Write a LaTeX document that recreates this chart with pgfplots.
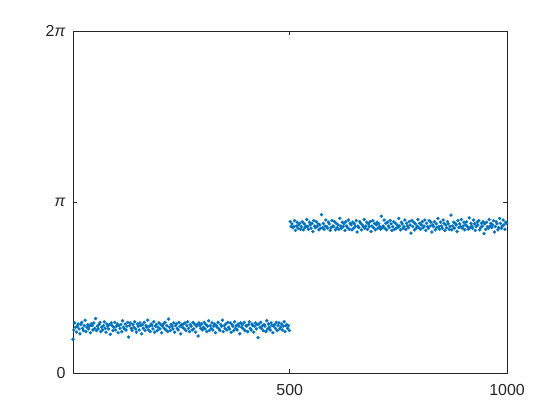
\documentclass[border=0pt]{standalone}
\usepackage{pgfplots}
\pgfplotsset{compat=1.18}
\usepackage{fontspec}
\setmainfont{Liberation Sans}
\definecolor{mblue}{HTML}{0072BD}
\definecolor{axgray}{HTML}{262626}
\begin{document}
\begin{tikzpicture}
\useasboundingbox (-73bp,-47bp) rectangle (487bp,373bp);
\begin{axis}[
  at={(0,0)}, anchor=south west,
  width=434bp, height=342bp, scale only axis,
  xmin=1, xmax=1000, ymin=0, ymax=6.2832,
  xtick={500,1000}, xticklabels={500,1000},
  ytick={0,3.14159,6.28318}, yticklabels={0,\textit{π},2\textit{π}},
  tick align=inside, major tick length=4.3bp,
  axis line style={axgray, line width=0.6bp},
  every tick/.style={axgray, line width=0.6bp},
  tick label style={font=\fontsize{16}{19}\selectfont, text=axgray},
  xticklabel style={yshift=-8bp},
  yticklabel style={xshift=-4bp},
]
% first half
\addplot[only marks, mark=*, mark size=1.5bp, mblue, mark options={draw=none, fill=mblue}] coordinates {
(1,0.62)(3,0.79)(5,0.92)(7,0.84)(9,0.75)(11,0.86)(13,0.90)(15,0.81)(17,0.72)(19,0.89)(21,0.93)(23,0.82)(25,0.78)(27,0.87)(29,0.97)(31,0.76)(33,0.84)(35,0.89)(37,0.81)(39,0.86)
(41,0.74)(43,0.90)(45,0.87)(47,0.79)(49,0.92)(51,0.82)(53,1.00)(55,0.78)(57,0.86)(59,0.81)(61,0.89)(63,0.93)(65,0.76)(67,0.84)(69,0.79)(71,0.87)(73,0.94)(75,0.82)(77,0.75)(79,0.90)
(81,0.86)(83,0.81)(85,0.89)(87,0.71)(89,0.92)(91,0.87)(93,0.78)(95,0.84)(97,0.93)(99,0.79)(101,0.86)(103,0.90)(105,0.74)(107,0.87)(109,0.82)(111,0.89)(113,0.76)(115,0.96)(117,0.84)(119,0.81)
(121,0.90)(123,0.79)(125,0.86)(127,0.93)(129,0.66)(131,0.87)(133,0.92)(135,0.82)(137,0.78)(139,0.89)(141,0.84)(143,0.94)(145,0.81)(147,0.75)(149,0.90)(151,0.86)(153,0.79)(155,0.92)(157,0.87)(159,0.72)
(161,0.89)(163,0.82)(165,0.93)(167,0.78)(169,0.87)(171,0.84)(173,0.97)(175,0.79)(177,0.86)(179,0.76)(181,0.90)(183,0.87)(185,0.81)(187,0.94)(189,0.75)(191,0.86)(193,0.89)(195,0.78)(197,0.84)(199,0.92)
(201,0.81)(203,0.89)(205,0.74)(207,0.86)(209,0.90)(211,0.82)(213,0.93)(215,0.79)(217,0.87)(219,0.76)(221,0.99)(223,0.84)(225,0.78)(227,0.89)(229,0.86)(231,0.81)(233,0.92)(235,0.75)(237,0.87)(239,0.90)
(241,0.82)(243,0.79)(245,0.93)(247,0.86)(249,0.72)(251,0.89)(253,0.84)(255,0.90)(257,0.81)(259,0.92)(261,0.78)(263,0.87)(265,0.94)(267,0.82)(269,0.76)(271,0.89)(273,0.86)(275,0.79)(277,0.93)(279,0.81)
(281,0.90)(283,0.75)(285,0.86)(287,0.89)(289,0.68)(291,0.92)(293,0.87)(295,0.82)(297,0.90)(299,0.79)(301,0.84)(303,0.93)(305,0.81)(307,0.89)(309,0.76)(311,0.86)(313,0.96)(315,0.78)(317,0.87)(319,0.82)
(321,0.92)(323,0.79)(325,0.86)(327,0.90)(329,0.74)(331,0.87)(333,0.84)(335,0.93)(337,0.81)(339,0.78)(341,0.89)(343,0.86)(345,0.97)(347,0.76)(349,0.87)(351,0.82)(353,0.90)(355,0.79)(357,0.93)(359,0.84)
(361,0.81)(363,0.92)(365,0.75)(367,0.89)(369,0.86)(371,0.78)(373,0.94)(375,0.82)(377,0.87)(379,0.79)(381,0.90)(383,0.86)(385,0.72)(387,0.92)(389,0.84)(391,0.89)(393,0.81)(395,0.93)(397,0.78)(399,0.87)
(401,0.86)(403,0.76)(405,0.89)(407,0.94)(409,0.82)(411,0.79)(413,0.90)(415,0.87)(417,0.75)(419,0.86)(421,0.92)(423,0.81)(425,0.89)(427,0.65)(429,0.90)(431,0.84)(433,0.93)(435,0.82)(437,0.87)(439,0.78)
(441,0.89)(443,0.86)(445,0.76)(447,0.96)(449,0.81)(451,0.90)(453,0.84)(455,0.79)(457,0.92)(459,0.87)(461,0.74)(463,0.86)(465,0.89)(467,0.82)(469,0.93)(471,0.78)(473,0.87)(475,0.92)(477,0.81)(479,0.84)
(481,0.90)(483,0.79)(485,0.86)(487,0.94)(489,0.76)(491,0.87)(493,0.89)(495,0.82)(497,0.87)(499,0.78)
};
% second half
\addplot[only marks, mark=*, mark size=1.5bp, mblue, mark options={draw=none, fill=mblue}] coordinates {
(501,2.78)(503,2.69)(505,2.74)(507,2.67)(509,2.69)(511,2.80)(513,2.62)(515,2.70)(517,2.77)(519,2.66)
(521,2.72)(523,2.75)(525,2.64)(527,2.69)(529,2.78)(531,2.63)(533,2.74)(535,2.67)(537,2.70)(539,2.82)(541,2.69)(543,2.64)(545,2.77)(547,2.72)(549,2.66)(551,2.75)(553,2.60)(555,2.80)(557,2.70)(559,2.67)
(561,2.78)(563,2.69)(565,2.74)(567,2.63)(569,2.72)(571,2.66)(573,2.91)(575,2.67)(577,2.75)(579,2.64)(581,2.70)(583,2.81)(585,2.69)(587,2.66)(589,2.77)(591,2.74)(593,2.62)(595,2.67)(597,2.80)(599,2.70)
(601,2.69)(603,2.78)(605,2.63)(607,2.75)(609,2.67)(611,2.72)(613,2.64)(615,2.84)(617,2.70)(619,2.66)(621,2.77)(623,2.69)(625,2.74)(627,2.62)(629,2.78)(631,2.70)(633,2.67)(635,2.81)(637,2.64)(639,2.75)
(641,2.72)(643,2.63)(645,2.77)(647,2.66)(649,2.74)(651,2.69)(653,2.80)(655,2.59)(657,2.70)(659,2.67)(661,2.78)(663,2.75)(665,2.63)(667,2.72)(669,2.69)(671,2.82)(673,2.66)(675,2.70)(677,2.77)(679,2.64)
(681,2.74)(683,2.69)(685,2.78)(687,2.60)(689,2.70)(691,2.80)(693,2.67)(695,2.75)(697,2.63)(699,2.72)(701,2.77)(703,2.66)(705,2.74)(707,2.69)(709,2.64)(711,2.88)(713,2.67)(715,2.70)(717,2.81)(719,2.66)
(721,2.75)(723,2.63)(725,2.77)(727,2.70)(729,2.67)(731,2.80)(733,2.74)(735,2.62)(737,2.69)(739,2.78)(741,2.64)(743,2.75)(745,2.66)(747,2.72)(749,2.67)(751,2.84)(753,2.70)(755,2.63)(757,2.77)(759,2.74)
(761,2.66)(763,2.69)(765,2.81)(767,2.64)(769,2.75)(771,2.70)(773,2.67)(775,2.78)(777,2.72)(779,2.57)(781,2.80)(783,2.69)(785,2.77)(787,2.63)(789,2.74)(791,2.66)(793,2.70)(795,2.82)(797,2.67)(799,2.75)
(801,2.64)(803,2.72)(805,2.78)(807,2.67)(809,2.70)(811,2.81)(813,2.62)(815,2.75)(817,2.69)(819,2.66)(821,2.80)(823,2.70)(825,2.77)(827,2.59)(829,2.72)(831,2.69)(833,2.78)(835,2.63)(837,2.74)(839,2.67)
(841,2.84)(843,2.69)(845,2.64)(847,2.77)(849,2.70)(851,2.66)(853,2.81)(855,2.75)(857,2.62)(859,2.72)(861,2.67)(863,2.78)(865,2.74)(867,2.64)(869,2.69)(871,2.90)(873,2.63)(875,2.70)(877,2.77)(879,2.66)
(881,2.75)(883,2.72)(885,2.60)(887,2.80)(889,2.67)(891,2.74)(893,2.69)(895,2.82)(897,2.66)(899,2.70)(901,2.77)(903,2.63)(905,2.72)(907,2.78)(909,2.69)(911,2.64)(913,2.85)(915,2.67)(917,2.75)(919,2.70)
(921,2.66)(923,2.81)(925,2.74)(927,2.62)(929,2.69)(931,2.77)(933,2.72)(935,2.80)(937,2.63)(939,2.67)(941,2.75)(943,2.70)(945,2.78)(947,2.56)(949,2.74)(951,2.64)(953,2.77)(955,2.69)(957,2.66)(959,2.82)
(961,2.70)(963,2.75)(965,2.67)(967,2.72)(969,2.80)(971,2.59)(973,2.69)(975,2.78)(977,2.74)(979,2.63)(981,2.67)(983,2.84)(985,2.75)(987,2.66)(989,2.70)(991,2.81)(993,2.72)(995,2.64)(997,2.77)(999,2.75)
};
\end{axis}
\end{tikzpicture}
\end{document}
